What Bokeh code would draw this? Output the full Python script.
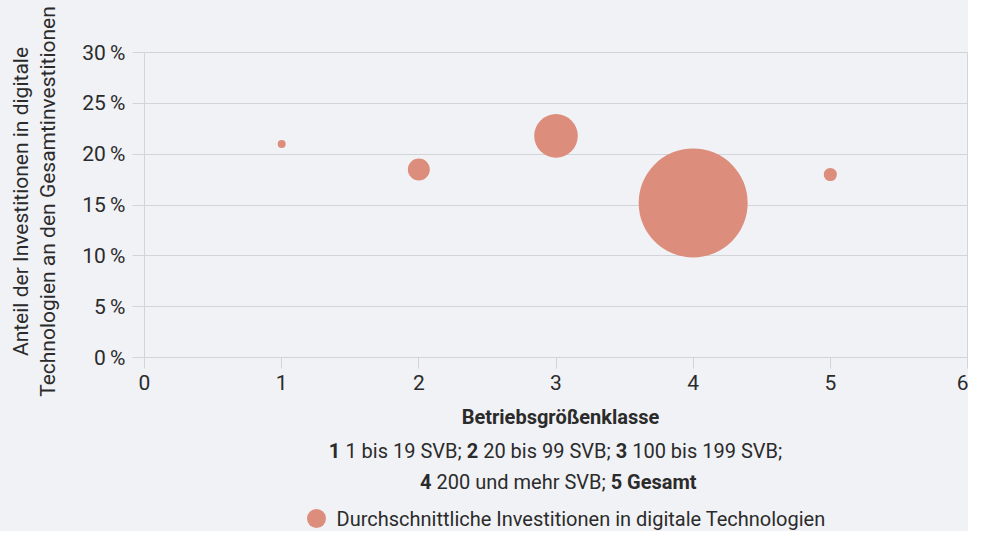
import math
from bokeh.plotting import figure
from bokeh.layouts import row, column
from bokeh.models import ColumnDataSource, Range1d, FixedTicker, PrintfTickFormatter
from bokeh.core.properties import value
from bokeh.embed import file_html
from bokeh.resources import INLINE

# ---- data ----
classes = [1, 2, 3, 4, 5]
share_pct = [21.0, 18.5, 21.8, 15.2, 18.0]          # Anteil digitale Investitionen (%)
avg_invest = [10, 45, 164, 1000, 19]                # durchschnittliche Investitionen (Bubble-Größe)
y_ticks = [0, 5, 10, 15, 20, 25, 30]
x_ticks = [0, 1, 2, 3, 4, 5, 6]
series_name = "Durchschnittliche Investitionen in digitale Technologien"
x_title = "Betriebsgrößenklasse"
y_title_1 = "Anteil der Investitionen in digitale"
y_title_2 = "Technologien an den Gesamtinvestitionen"
note_line2 = [("1", True), ("1 bis 19 SVB;", False), ("2", True), ("20 bis 99 SVB;", False),
              ("3", True), ("100 bis 199 SVB;", False)]
note_line3 = [("4", True), ("200 und mehr SVB;", False), ("5 Gesamt", True)]

# ---- style / layout ----
FONT = "Roboto"
BG = "#f1f2f6"
GRID = "#d3d4da"
TXT = "#2b2b2b"
BUBBLE = "#dc8d7b"
FS_TICK = "21px"
FS = 20
FS_YT = 21
MIN_D, MAX_D = 8, 109

W, H = 968, 531
LEFT_W = 62            # strip holding the rotated y title
MAIN_H = 405           # main chart height
BOT_H = H - MAIN_H     # strip holding x title, notes, legend
FRAME_TOP, FRAME_BOTTOM, FRAME_LEFT = 52, 357, 144

vmin, vmax = min(avg_invest), max(avg_invest)
diam = [math.sqrt(MIN_D**2 + (MAX_D**2 - MIN_D**2) * (v - vmin) / (vmax - vmin)) for v in avg_invest]
src = ColumnDataSource(dict(x=classes, y=share_pct, size=diam, inv=avg_invest))

# ---- main chart ----
p = figure(width=W - LEFT_W, height=MAIN_H, output_backend="svg", toolbar_location=None,
           x_range=Range1d(0, 6), y_range=Range1d(0, 30),
           min_border_left=FRAME_LEFT - LEFT_W, min_border_right=1, min_border_top=FRAME_TOP,
           min_border_bottom=MAIN_H - FRAME_BOTTOM)
p.background_fill_color = BG
p.border_fill_color = BG
p.outline_line_color = GRID
p.scatter("x", "y", size="size", source=src, fill_color=BUBBLE, line_color=None, marker="circle")
p.xgrid.visible = False
p.ygrid.grid_line_color = GRID
p.ygrid.ticker = FixedTicker(ticks=y_ticks)
p.xaxis.ticker = FixedTicker(ticks=x_ticks)
p.yaxis.ticker = FixedTicker(ticks=y_ticks)
p.yaxis.formatter = PrintfTickFormatter(format="%d\u2009%%")
for ax in (p.xaxis[0], p.yaxis[0]):
    ax.major_label_text_font = FONT
    ax.major_label_text_font_size = FS_TICK
    ax.major_label_text_color = TXT
    ax.minor_tick_line_color = None
    ax.major_tick_in = 0
    ax.major_tick_line_color = GRID
p.xaxis.axis_line_color = GRID
p.xaxis.major_tick_out = 11
p.xaxis.major_label_standoff = 6
p.yaxis.axis_line_color = None
p.yaxis.major_tick_out = 12
p.yaxis.major_label_standoff = 7


def blank(w, h, x0=0, x1=None):
    f = figure(width=w, height=h, output_backend="svg", toolbar_location=None,
               x_range=Range1d(x0, w if x1 is None else x1), y_range=Range1d(0, h),
               x_axis_location=None, y_axis_location=None,
               min_border=0, min_border_left=0, min_border_right=0,
               min_border_top=0, min_border_bottom=0)
    f.grid.visible = False
    f.outline_line_color = None
    f.background_fill_color = BG
    f.border_fill_color = BG
    return f


def txt(f, h, x, y_top, s, bold=False, align="left", angle=0.0, fs=FS):
    f.text(x=[x], y=[h - y_top], text=[s], angle=angle,
           text_font=value(FONT), text_font_size="%dpx" % fs, text_color=TXT,
           text_font_style="bold" if bold else "normal",
           text_align=align, text_baseline="middle")


# approximate Roboto advance widths (em) used only to lay out mixed bold/regular lines
_W = {" ": .248, ";": .212, "S": .594, "V": .637, "B": .623, "G": .682,
      "a": .544, "b": .561, "d": .564, "e": .530, "h": .551, "i": .243, "m": .876,
      "n": .552, "r": .338, "s": .516, "t": .327, "u": .551}


def tw(s, bold, fs):
    w = sum(.5615 if c.isdigit() else _W.get(c, .55) for c in s) * fs
    return w * (1.03 if bold else 1.0)


MID = 0.34  # distance baseline -> middle of em box, in em


def mixed(f, h, cx, baseline, segs):
    sp = _W[" "] * FS
    total = sum(tw(t, b, FS) for t, b in segs) + sp * (len(segs) - 1)
    x = cx - total / 2
    for t, b in segs:
        txt(f, h, x, baseline - MID * FS, t, bold=b)
        x += tw(t, b, FS) + sp


# ---- left strip: rotated y title (baselines at x=28 and x=55) ----
lf = blank(LEFT_W, H)
txt(lf, H, 28 - MID * FS_YT, 201, y_title_1, align="center", angle=math.pi / 2, fs=FS_YT)
txt(lf, H, 55 - MID * FS_YT, 201, y_title_2, align="center", angle=math.pi / 2, fs=FS_YT)

# ---- bottom strip: its frame is aligned with the chart frame, so x is page x ----
oy = MAIN_H
bf = blank(W - LEFT_W, BOT_H, x0=FRAME_LEFT, x1=W - 1)
txt(bf, BOT_H, 560, 423 - MID * FS - oy, x_title, bold=True, align="center")
mixed(bf, BOT_H, 555, 457 - oy, note_line2)
mixed(bf, BOT_H, 559, 488 - oy, note_line3)
# legend key + label
bf.scatter(x=[316], y=[BOT_H - (518 - oy)], size=19, marker="circle",
           fill_color=BUBBLE, line_color=None)
txt(bf, BOT_H, 336, 518 - oy, series_name)

layout = row(lf, column(p, bf, spacing=0), spacing=0)
layout.styles = {"background-color": BG}

html = file_html(layout, INLINE)
html = html.replace("<body>", '<body style="background-color:%s">' % BG, 1)
open("out.html", "w").write(html)
